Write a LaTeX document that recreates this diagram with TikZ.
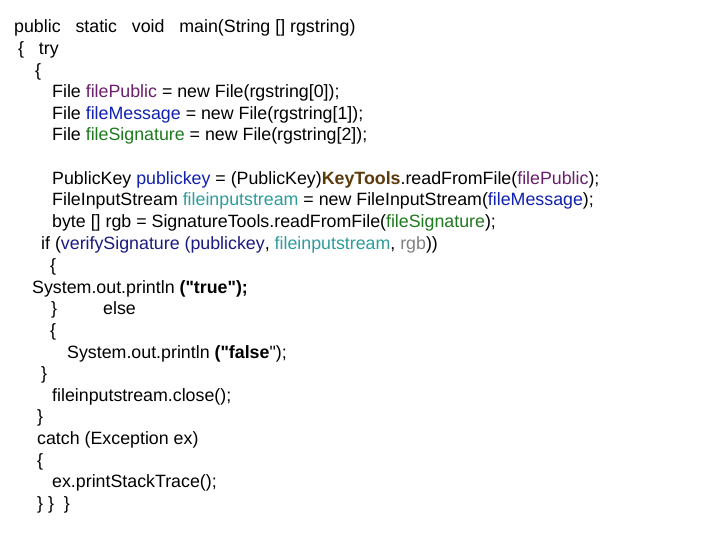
\documentclass[tikz,border=0pt]{standalone}
\usepackage{fontspec}
\setmainfont{Liberation Sans}
\definecolor{cpur}{HTML}{6B1F6B}
\definecolor{cblu}{HTML}{1020B0}
\definecolor{cgrn}{HTML}{1E7A1E}
\definecolor{cbrn}{HTML}{5C3A0A}
\definecolor{ctea}{HTML}{2E9C9C}
\definecolor{cnav}{HTML}{1A1A80}
\definecolor{cgry}{HTML}{808080}
\begin{document}
\begin{tikzpicture}[x=1pt,y=-1pt,code/.style={anchor=base west,inner sep=0pt,font=\fontsize{17.8}{20}\selectfont}]
\useasboundingbox[fill=white] (0,0) rectangle (720,540);
\node[code] (l1) at (14,33) {public\ \ \ static\ \ \ void\ \ \ main(String [] rgstring)};
\node[code] (l2) at (18,55) {\{\ \ \ try};
\node[code] (l3) at (35,77) {\{};
\node[code] (l4) at (52,98) {File \textcolor{cpur}{filePublic} = new File(rgstring[0]);};
\node[code] (l5) at (52,120) {File \textcolor{cblu}{fileMessage} = new File(rgstring[1]);};
\node[code] (l6) at (52,141) {File \textcolor{cgrn}{fileSignature} = new File(rgstring[2]);};
\node[code] (l7) at (52,185) {PublicKey \textcolor{cblu}{publickey} = (PublicKey)\textcolor{cbrn}{\textbf{KeyTools}}.readFromFile(\textcolor{cpur}{filePublic});};
\node[code] (l8) at (52,206) {FileInputStream \textcolor{ctea}{fileinputstream} = new FileInputStream(\textcolor{cblu}{fileMessage});};
\node[code] (l9) at (52,228) {byte [] rgb = SignatureTools.readFromFile(\textcolor{cgrn}{fileSignature});};
\node[code] (l10) at (41,249) {if (\textcolor{cnav}{verifySignature (publickey}, \textcolor{ctea}{fileinputstream}, \textcolor{cgry}{rgb}))};
\node[code] (l11) at (50,271) {\{};
\node[code] (l12) at (32,293) {System.out.println \textbf{(\textquotedbl true\textquotedbl);}};
\node[code] (l13) at (51,314) {\}};
\node[code] (l13b) at (103,314) {else};
\node[code] (l14) at (50,336) {\{};
\node[code] (l15) at (67,358) {System.out.println \textbf{(\textquotedbl false}\textquotedbl);};
\node[code] (l16) at (41,379) {\}};
\node[code] (l17) at (52,401) {fileinputstream.close();};
\node[code] (l18) at (37,422) {\}};
\node[code] (l19) at (37,444) {catch (Exception ex)};
\node[code] (l20) at (37,466) {\{};
\node[code] (l21) at (52,487) {ex.printStackTrace();};
\node[code] (l22) at (37,509) {\} \} \ \}};
\end{tikzpicture}
\end{document}
